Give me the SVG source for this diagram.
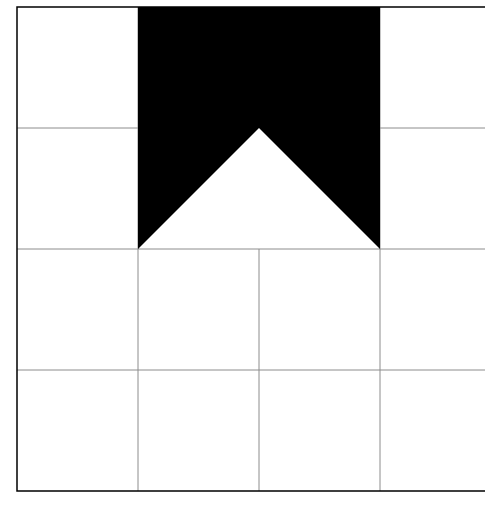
<svg xmlns="http://www.w3.org/2000/svg" width="485" height="508" viewBox="0 0 485 508">
<style>
.grid{stroke:#8c8c8c;stroke-width:1;fill:none}
.border{stroke:#000;stroke-width:1.5;fill:none}
</style>
<rect width="485" height="508" fill="#fff"/>
<g id="grid" class="grid">
<line x1="138" y1="7" x2="138" y2="491"/>
<line x1="259" y1="249" x2="259" y2="491"/>
<line x1="380" y1="7" x2="380" y2="491"/>
<line x1="17" y1="128" x2="138" y2="128"/>
<line x1="380" y1="128" x2="485" y2="128"/>
<line x1="17" y1="249" x2="485" y2="249"/>
<line x1="17" y1="370" x2="485" y2="370"/>
</g>
<g id="shape">
<polygon points="138,7 380,7 380,249 259,128 138,249" fill="#000"/>
</g>
<g id="border" class="border">
<polyline points="485,7 17,7 17,491 485,491"/>
</g>
</svg>
